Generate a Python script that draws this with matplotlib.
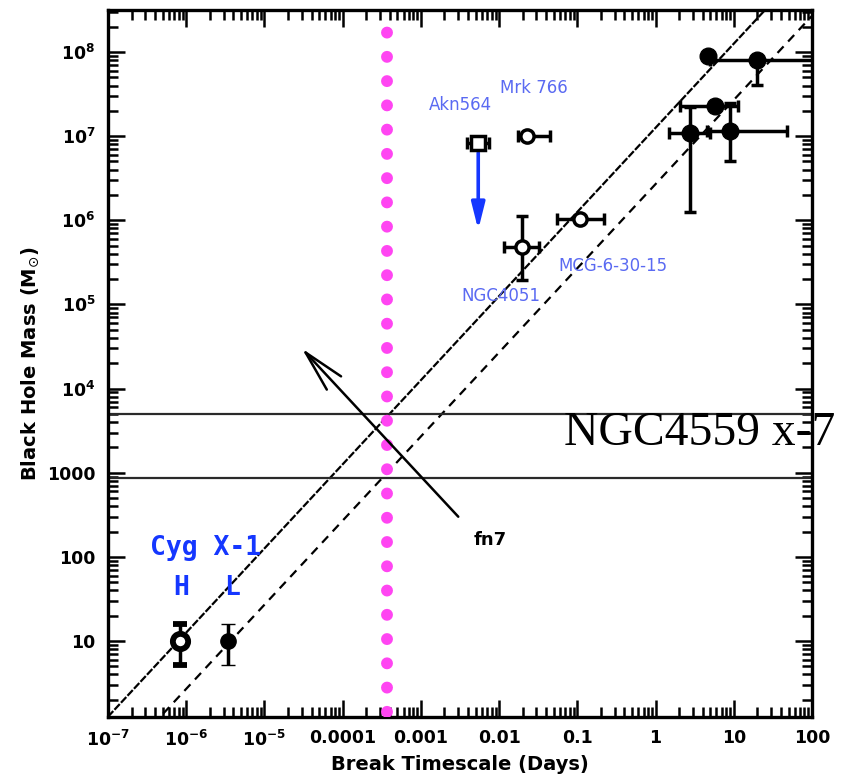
import numpy as np
import matplotlib
matplotlib.use("Agg")
import matplotlib.pyplot as plt
from matplotlib.ticker import FixedLocator, LogLocator, NullFormatter

# ---- axis ranges and tick labels -------------------------------------------
x_range = (1e-7, 100.0)            # break timescale, days
y_range = (1.25, 3.16e8)           # black hole mass, solar masses
x_ticks = [1e-7, 1e-6, 1e-5, 1e-4, 1e-3, 1e-2, 1e-1, 1, 10, 100]
x_tick_labels = [r"$\mathbf{10^{-7}}$", r"$\mathbf{10^{-6}}$", r"$\mathbf{10^{-5}}$",
                 "0.0001", "0.001", "0.01", "0.1", "1", "10", "100"]
y_ticks = [10, 100, 1000, 1e4, 1e5, 1e6, 1e7, 1e8]
y_tick_labels = ["10", "100", "1000", r"$\mathbf{10^{4}}$", r"$\mathbf{10^{5}}$",
                 r"$\mathbf{10^{6}}$", r"$\mathbf{10^{7}}$", r"$\mathbf{10^{8}}$"]

# ---- Cyg X-1 (high / low state) --------------------------------------------
cyg_names = ["H", "L"]
cyg_T = [8.3e-7, 3.4e-6]
cyg_M = [10.0, 10.0]
cyg_M_lo = [5.2, 5.2]
cyg_M_hi = [16.0, 16.0]
cyg_open = [True, False]

# ---- AGN with open symbols (labelled) --------------------------------------
agn_names = ["Akn564", "Mrk 766", "NGC4051", "MCG-6-30-15"]
agn_T = [5.4e-3, 0.0228, 0.0197, 0.109]
agn_T_lo = [3.9e-3, 0.0175, 0.0116, 0.055]
agn_T_hi = [7.4e-3, 0.045, 0.0324, 0.22]
agn_M = [8.3e6, 1.0e7, 4.8e5, 1.03e6]
agn_M_lo = [8.3e6, 1.0e7, 1.95e5, 1.03e6]
agn_M_hi = [8.3e6, 1.0e7, 1.12e6, 1.03e6]
agn_marker = ["s", "o", "o", "o"]
agn_label_T = [3.17e-3, 0.028, 0.0106, 0.287]
agn_label_M = [2.34e7, 3.73e7, 1.26e5, 2.86e5]
akn_limit_M = 7.7e5                # upper limit arrow end for Akn564

# ---- AGN with filled symbols -----------------------------------------------
big_T = [4.7, 20.0, 5.8, 2.77, 9.0]
big_T_lo = [4.7, 5.0, 2.07, 1.5, 4.6]
big_T_hi = [4.7, 200.0, 11.4, 5.0, 48.0]
big_M = [9.0e7, 8.0e7, 2.28e7, 1.09e7, 1.15e7]
big_M_lo = [9.0e7, 4.06e7, 2.28e7, 1.26e6, 5.1e6]
big_M_hi = [9.0e7, 8.0e7, 2.28e7, 2.2e7, 2.5e7]

# ---- scaling relations M = k * T -------------------------------------------
relation_k = [1.26e7, 2.7e6]

# ---- NGC4559 X-7 mass band and timescale -----------------------------------
x7_mass_band = [870.0, 5000.0]
x7_timescale = 3.7e-4
fit_arrow_T = [3e-3, 3e-5]
fit_arrow_M = [300.0, 3e4]

plt.rcParams["font.family"] = ["DejaVu Sans"]
plt.rcParams["mathtext.fontset"] = "dejavusans"

fig = plt.figure(figsize=(8.46, 7.81), dpi=100)
ax = fig.add_axes([0.1277, 0.0820, 0.8322, 0.9052])
ax.set_xscale("log")
ax.set_yscale("log")
ax.set_xlim(*x_range)
ax.set_ylim(*y_range)

# scaling relations
tt = np.logspace(-7.5, 2.5, 50)
ax.plot(tt, relation_k[0] * tt, color="k", lw=1.6, dashes=(3.5, 0.8), zorder=2)
ax.plot(tt, relation_k[1] * tt, color="k", lw=1.6, dashes=(4, 3), zorder=2)

# mass band of NGC4559 X-7
for m in x7_mass_band:
    ax.axhline(m, color="#2a2a2a", lw=1.6, zorder=2)

# timescale of NGC4559 X-7 (dotted)
ax.axvline(x7_timescale, color="#ff45f2", lw=8.6,
           linestyle=(1.6, (0.001, 2.03)), dash_capstyle="round", zorder=3)

# fit arrow
ax.annotate("", xy=(fit_arrow_T[1], fit_arrow_M[1]),
            xytext=(fit_arrow_T[0], fit_arrow_M[0]),
            arrowprops=dict(arrowstyle="->,head_length=3.0,head_width=0.7",
                            color="k", lw=1.8, shrinkA=0, shrinkB=0), zorder=4)
ax.text(7.7e-3, 158, "fn7", fontsize=13, fontweight="bold",
        ha="center", va="center")

# Cyg X-1
for T, M, lo, hi, op in zip(cyg_T, cyg_M, cyg_M_lo, cyg_M_hi, cyg_open):
    ax.errorbar([T], [M], yerr=[[M - lo], [hi - M]], fmt="o", ms=11,
                mfc="white" if op else "k", mec="k", mew=4.2 if op else 1,
                ecolor="k", elinewidth=2.5, capsize=5, capthick=2.5, zorder=5)
ax.text(1.79e-6, 127, "Cyg X-1", fontsize=19, fontweight="bold",
        family="DejaVu Sans Mono", color="#1537ff", ha="center", va="center")
for T, name in zip([8.6e-7, 3.86e-6], cyg_names):
    ax.text(T, 42.7, name, fontsize=19, fontweight="bold",
            family="DejaVu Sans Mono", color="#1537ff", ha="center", va="center")

# labelled AGN (open symbols)
for T, tlo, thi, M, mlo, mhi, mk in zip(agn_T, agn_T_lo, agn_T_hi, agn_M,
                                         agn_M_lo, agn_M_hi, agn_marker):
    ax.errorbar([T], [M], xerr=[[T - tlo], [thi - T]], yerr=[[M - mlo], [mhi - M]],
                fmt=mk, ms=9.5, mfc="white", mec="k", mew=2.5,
                ecolor="k", elinewidth=2.5, capsize=4, capthick=2.5, zorder=5)
for name, T, M in zip(agn_names, agn_label_T, agn_label_M):
    ax.text(T, M, name, fontsize=12, color="#5a6af2", ha="center", va="center")

# Akn564 upper limit
ax.annotate("", xy=(agn_T[0], akn_limit_M), xytext=(agn_T[0], agn_M[0]),
            arrowprops=dict(arrowstyle="-|>,head_length=1.6,head_width=0.4",
                            color="#1537ff", lw=2.6, shrinkA=7, shrinkB=0),
            zorder=4)

# filled-symbol AGN
for T, tlo, thi, M, mlo, mhi in zip(big_T, big_T_lo, big_T_hi, big_M,
                                     big_M_lo, big_M_hi):
    ax.errorbar([T], [M], xerr=[[T - tlo], [thi - T]], yerr=[[M - mlo], [mhi - M]],
                fmt="o", ms=12, mfc="k", mec="k",
                ecolor="k", elinewidth=2.5, capsize=4, capthick=2.5, zorder=5)

# NGC4559 X-7 label
ax.text(0.0678, 2134, "NGC4559 x-7", fontsize=34.3, family="Liberation Serif",
        ha="left", va="baseline", clip_on=False, zorder=6)

# ticks and spines
ax.xaxis.set_major_locator(FixedLocator(x_ticks))
ax.set_xticklabels(x_tick_labels)
ax.yaxis.set_major_locator(FixedLocator(y_ticks))
ax.set_yticklabels(y_tick_labels)
for axis in (ax.xaxis, ax.yaxis):
    axis.set_minor_locator(LogLocator(base=10, subs=np.arange(2, 10), numticks=30))
    axis.set_minor_formatter(NullFormatter())
ax.tick_params(which="both", direction="in", top=True, right=True)
ax.tick_params(which="major", length=12, width=1.8, labelsize=12.5, pad=9)
ax.tick_params(which="minor", length=7, width=1.8)
for lab in ax.get_xticklabels() + ax.get_yticklabels():
    lab.set_fontweight("bold")
for sp in ax.spines.values():
    sp.set_linewidth(2.4)

ax.set_xlabel("Break Timescale (Days)", fontsize=14, fontweight="bold", labelpad=4)
ax.set_ylabel(r"Black Hole Mass (M$_{\odot}$)", fontsize=14, fontweight="bold",
              labelpad=4)

fig.savefig("out.png", dpi=100)
